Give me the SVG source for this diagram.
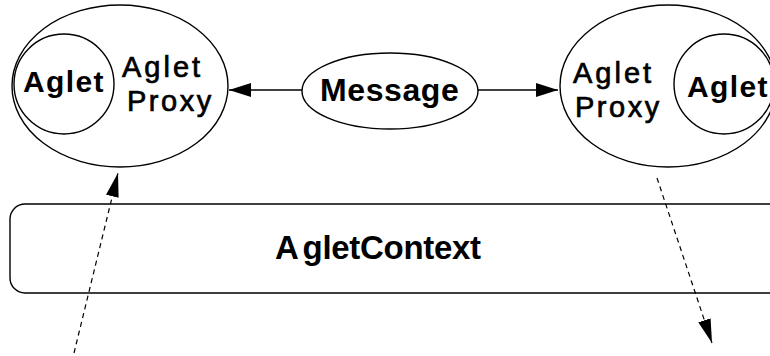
<svg xmlns="http://www.w3.org/2000/svg" width="770" height="356" viewBox="0 0 770 356">
<defs>
<style>
.ln{fill:none;stroke:#000;stroke-width:1.4}
.t{font-family:"Liberation Sans",Arial,sans-serif;fill:#000}
.b{font-weight:bold}
.r{stroke:#000;stroke-width:0.7}
.dash{fill:none;stroke:#000;stroke-width:1.2;stroke-dasharray:5 4}
</style>
<marker id="ah" markerUnits="userSpaceOnUse" markerWidth="22" markerHeight="14" viewBox="0 0 22 14" refX="22" refY="7" orient="auto">
<path d="M0,0 L22,7 L0,14 z" fill="#000"/>
</marker>
<marker id="ahd" markerUnits="userSpaceOnUse" markerWidth="24" markerHeight="13" viewBox="0 0 24 13" refX="24" refY="6.5" orient="auto">
<path d="M0,0 L24,6.5 L0,13 z" fill="#000"/>
</marker>
</defs>
<rect width="770" height="356" fill="#fff"/>
<g id="agletContext">
<rect x="10" y="204" width="780" height="89" rx="15" ry="15" class="ln"/>
<text class="t b" x="275" y="259" font-size="33" letter-spacing="-0.3">A<tspan dx="4">gletContext</tspan></text>
</g>
<g id="leftProxy">
<ellipse cx="120" cy="86" rx="108" ry="81" class="ln"/>
<text class="t r" x="122" y="77" font-size="29" letter-spacing="3">Aglet</text>
<text class="t r" x="127" y="111" font-size="29" letter-spacing="2.5">Proxy</text>
</g>
<g id="leftAglet">
<circle cx="64" cy="84" r="50" class="ln"/>
<text class="t b" x="23" y="92" font-size="30" letter-spacing="1.4">Aglet</text>
</g>
<g id="message">
<ellipse cx="390" cy="91" rx="88" ry="38" class="ln"/>
<text class="t b" x="320" y="101" font-size="32" letter-spacing="0.6">Message</text>
</g>
<g id="rightProxy">
<ellipse cx="668" cy="86" rx="108" ry="81" class="ln"/>
<text class="t r" x="573" y="83" font-size="29" letter-spacing="3">Aglet</text>
<text class="t r" x="575" y="117" font-size="29" letter-spacing="2.5">Proxy</text>
</g>
<g id="rightAglet">
<circle cx="724" cy="84" r="50" class="ln"/>
<text class="t b" x="687" y="97" font-size="30" letter-spacing="1.4">Aglet</text>
</g>
<g id="connectors">
<line x1="302" y1="90" x2="229" y2="90" class="ln" marker-end="url(#ah)"/>
<line x1="478" y1="90" x2="558" y2="90" class="ln" marker-end="url(#ah)"/>
<line x1="74" y1="353" x2="118" y2="173" class="dash" marker-end="url(#ahd)"/>
<line x1="657" y1="178" x2="712" y2="343" class="dash" marker-end="url(#ahd)"/>
</g>
</svg>
